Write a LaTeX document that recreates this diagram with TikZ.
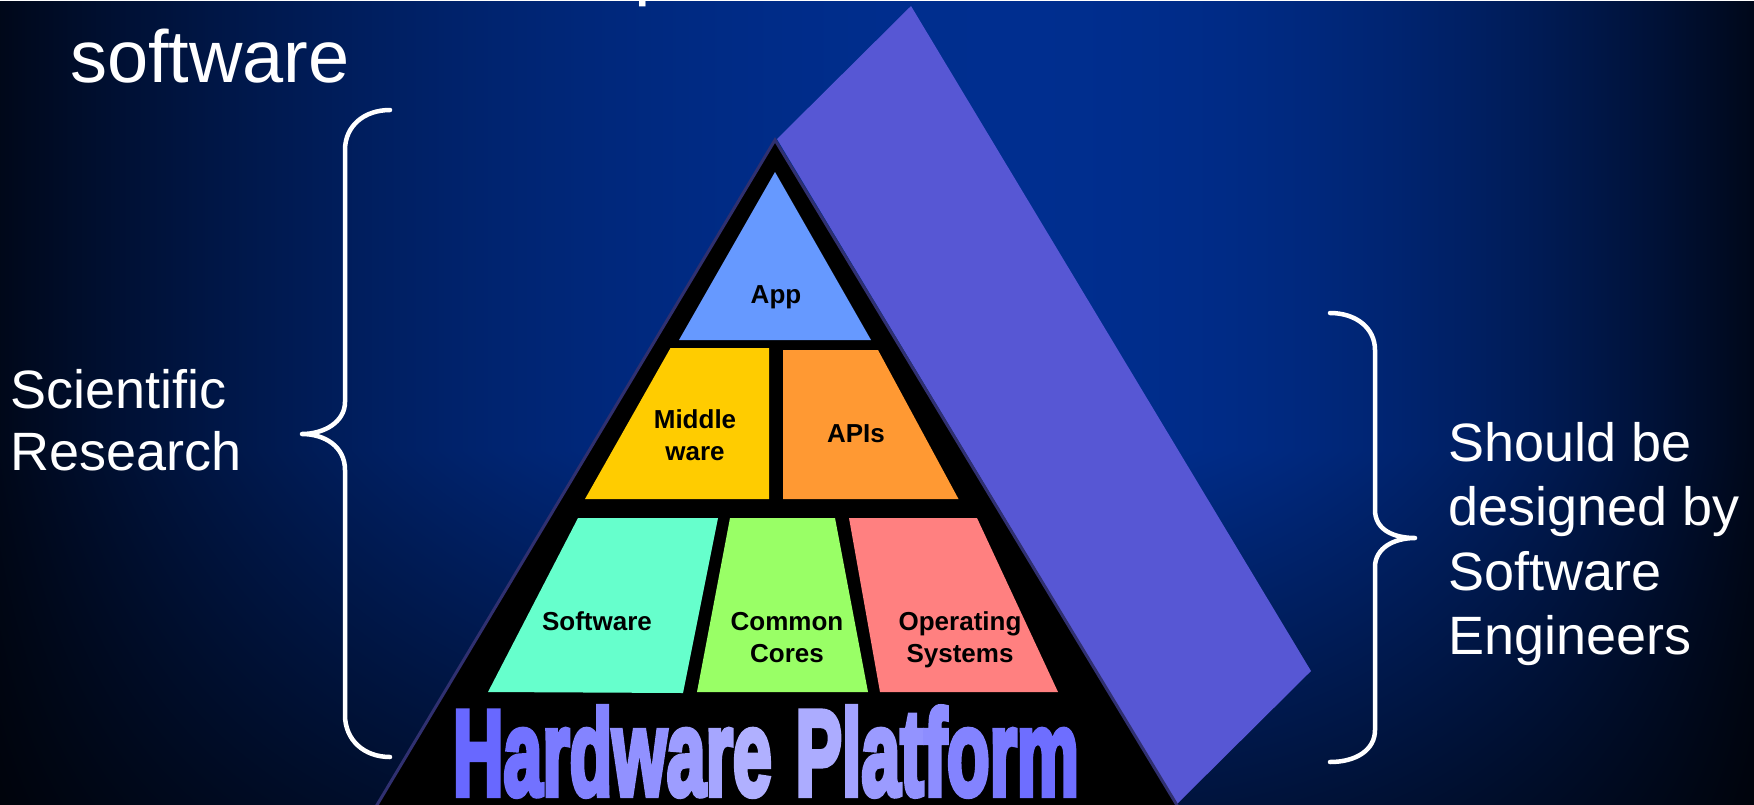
\documentclass[tikz,border=0pt]{standalone}
\usepackage{fontspec}
\setmainfont{Liberation Sans}
\IfFontExistsTF{Fira Sans Heavy}
  {\newfontfamily\hwfont{Fira Sans Heavy}[LetterSpace=6, FakeBold=5]}
  {\newfontfamily\hwfont{Liberation Sans Bold}[LetterSpace=6, FakeBold=5]}

\definecolor{slab}{RGB}{87,87,212}
\definecolor{pyrline}{RGB}{48,48,112}
\definecolor{appc}{RGB}{102,153,255}
\definecolor{midc}{RGB}{255,204,0}
\definecolor{apic}{RGB}{255,153,51}
\definecolor{swc}{RGB}{102,255,204}
\definecolor{corec}{RGB}{153,255,102}
\definecolor{osc}{RGB}{255,128,128}
\definecolor{hwedge}{RGB}{102,102,255}
\definecolor{hwmid}{RGB}{182,182,255}

% slide background: blue glow in the middle, dark towards the sides and the bottom
\pgfdeclarefunctionalshading{deepblue}{\pgfpointorigin}{\pgfpoint{1754pt}{804pt}}{}{
  801 div 1.249 mul 0.45 add dup 1 gt {pop 1} if
  exch 1748 div 0.58 sub dup 0 lt {0.58 div} {0.42 div} ifelse
  dup mul 1 exch sub dup 0 lt {pop 0} if
  dup 0.15 mul 0.03 add exch 0.46 mul 0.10 add
  2 index mul exch 2 index mul exch 3 -1 roll pop 0 3 1 roll
}

% struts that give every box label the same height and depth
\newcommand\lblup{\rule{0pt}{20pt}}
\newcommand\lbldn{\rule[-6pt]{0pt}{6pt}}
% one letter of the base caption, tinted between edge and middle colour
\newcommand\hwl[2]{\textcolor{hwmid!#1!hwedge}{#2}}
\newcommand\hwtext{\hwl{2}{H}\hwl{15}{a}\hwl{26}{r}\hwl{38}{d}\hwl{54}{w}\hwl{69}{a}\hwl{80}{r}\hwl{92}{e}\ \hwl{88}{P}\hwl{76}{l}\hwl{66}{a}\hwl{56}{t}\hwl{48}{f}\hwl{36}{o}\hwl{25}{r}\hwl{10}{m}}

\tikzset{
  bracestroke/.style={draw=white, line width=4.5pt, line cap=round, line join=round},
  whitetxt/.style={text=white, inner sep=0pt, outer sep=0pt},
  pyr/.style={fill=black, draw=pyrline, line width=3pt},
  lbl/.style={inner sep=0pt, align=center, text=black,
              font=\bfseries\fontsize{26}{32}\selectfont},
}

\begin{document}
\begin{tikzpicture}[x=1pt, y=-1pt]
\useasboundingbox (0,0) rectangle (1754,804);
\node[inner sep=0pt, outer sep=0pt, anchor=south west] (bg) at (0,804) {\pgfuseshading{deepblue}};

\begin{scope}
\clip (0,0) rectangle (1754,804);

% heading lines
\node[whitetxt, anchor=base west, font=\fontsize{74}{80}\selectfont] (frag) at (634,-8.5) {p};
\node[whitetxt, anchor=base west, font=\fontsize{74}{80}\selectfont] (title) at (70,82) {software};

% shaded side face of the pyramid
\fill[slab] (777,139) -- (911,6) -- (1311,671) -- (1177,804) -- cycle;

% pyramid body
\filldraw[pyr] (775,140) -- (1192,830) -- (362,830) -- cycle;

% layers
\fill[appc]  (775,172) -- (871,340) -- (679,340) -- cycle;
\fill[midc]  (670.5,348) -- (769,348) -- (769,499) -- (585,499) -- cycle;
\fill[apic]  (783,350) -- (878,350) -- (958.5,499) -- (783,499) -- cycle;
\fill[swc]   (578,518) -- (718,518) -- (683,693) -- (488,692) -- cycle;
\fill[corec] (730,518) -- (835,518) -- (868,692) -- (697,692) -- cycle;
\fill[osc]   (849,518) -- (977,518) -- (1058,692) -- (880,692) -- cycle;

\node[lbl] (app)  at (776,296) {\lblup App\lbldn};
\node[lbl] (mid)  at (695,437) {\lblup Middle\\ware\lbldn};
\node[lbl] (apis) at (856,435) {\lblup APIs\lbldn};
\node[lbl] (sw)   at (597,623) {\lblup Software\lbldn};
\node[lbl] (core) at (787,639) {\lblup Common\\Cores\lbldn};
\node[lbl] (os)   at (960,639) {\lblup Operating\\Systems\lbldn};

% base caption
\node[inner sep=0pt, outer sep=0pt, anchor=north west] (hw) at (453,707)
  {\resizebox{626pt}{88pt}{\hwfont\fontsize{128}{128}\selectfont\hwtext}};

% braces
\draw[bracestroke] (390,110) .. controls (364,110) and (345,126) .. (345,150)
  -- (345,402) .. controls (345,422) and (324,434) .. (302,434)
  .. controls (324,434) and (345,446) .. (345,470)
  -- (345,715) .. controls (345,740) and (364,757) .. (390,757);
\draw[bracestroke] (1330,313) .. controls (1356,313) and (1375,328) .. (1375,350)
  -- (1375,510) .. controls (1375,530) and (1394,538) .. (1415,538)
  .. controls (1394,538) and (1375,548) .. (1375,567)
  -- (1375,730) .. controls (1375,750) and (1356,762) .. (1330,762);

% side texts
\node[whitetxt, anchor=north west, align=left, font=\fontsize{54}{62}\selectfont] (sci) at (10.5,366)
  {\rule{0pt}{42pt}Scientific\\Research};
\node[whitetxt, anchor=north west, align=left, font=\fontsize{54}{64.5}\selectfont] (eng) at (1448.5,419)
  {\rule{0pt}{42pt}Should be\\designed by\\Software\\Engineers};
\end{scope}
\end{tikzpicture}
\end{document}
